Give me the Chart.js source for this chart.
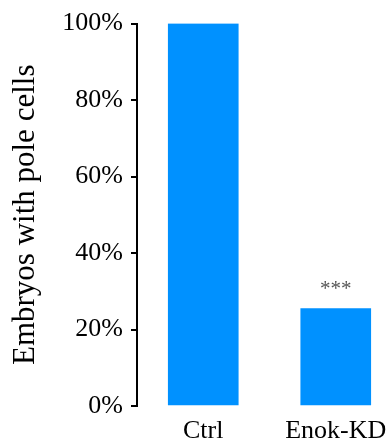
<!DOCTYPE html>
<html lang="en">
<head>
    <meta charset="utf-8">
    <script src="https://cdn.jsdelivr.net/npm/chart.js@4.4.0/dist/chart.umd.min.js"></script>
    <style>
        html, body { margin: 0; padding: 0; background: #fff; overflow: hidden; }
        /* canvas runs 12px past the window so the plot area ends off-screen, like the figure crop */
        #wrap { width: 402px; height: 443px; }
    </style>
</head>
<body>
    <div id="wrap"><canvas id="myChart" width="402" height="443"></canvas></div>
    <script>
        // data
        var labels = ['Ctrl', 'Enok-KD'];
        var values = [100, 25.5];
        var marks = ['', '***'];   // significance stars above bars
        var yTicks = [0, 20, 40, 60, 80, 100];

        var serif = '"Liberation Serif", "Times New Roman", serif';

        // stars above the bars
        var starPlugin = {
            id: 'stars',
            afterDatasetsDraw: function(chart) {
                var ctx = chart.ctx;
                var meta = chart.getDatasetMeta(0);
                ctx.save();
                ctx.fillStyle = '#555';
                ctx.font = '21px ' + serif;
                ctx.textAlign = 'center';
                ctx.textBaseline = 'middle';
                meta.data.forEach(function(bar, i) {
                    if (marks[i]) ctx.fillText(marks[i], bar.x, bar.y - 19);
                });
                ctx.restore();
            }
        };

        Chart.defaults.animation = false;
        Chart.defaults.font.family = serif;
        Chart.defaults.color = '#000';

        new Chart(document.getElementById('myChart'), {
            type: 'bar',
            data: {
                labels: labels,
                datasets: [{
                    data: values,
                    backgroundColor: '#0091ff',
                    barThickness: 70
                }]
            },
            options: {
                responsive: false,
                layout: { padding: { top: 21, right: 0, bottom: 0, left: 0 } },
                plugins: { legend: { display: false }, tooltip: { enabled: false } },
                scales: {
                    x: {
                        afterFit: function(scale) { scale.height = 37; },
                        grid: { display: false },
                        border: { display: false },
                        ticks: { font: { size: 26 }, padding: 2 }
                    },
                    y: {
                        min: 0,
                        max: 100,
                        afterFit: function(scale) { scale.width = 137; },
                        afterBuildTicks: function(scale) {
                            scale.ticks = yTicks.map(function(v) { return { value: v }; });
                        },
                        grid: { drawOnChartArea: false, tickLength: 6, lineWidth: 2, color: '#000' },
                        border: { color: '#000', width: 2 },
                        ticks: {
                            font: { size: 26 },
                            padding: 8,
                            callback: function(v) { return v + '%'; }
                        },
                        title: {
                            display: true,
                            text: 'Embryos with pole cells',
                            font: { size: 31 },
                            padding: { top: 7, bottom: 0 }
                        }
                    }
                }
            },
            plugins: [starPlugin]
        });
    </script>
</body>
</html>
